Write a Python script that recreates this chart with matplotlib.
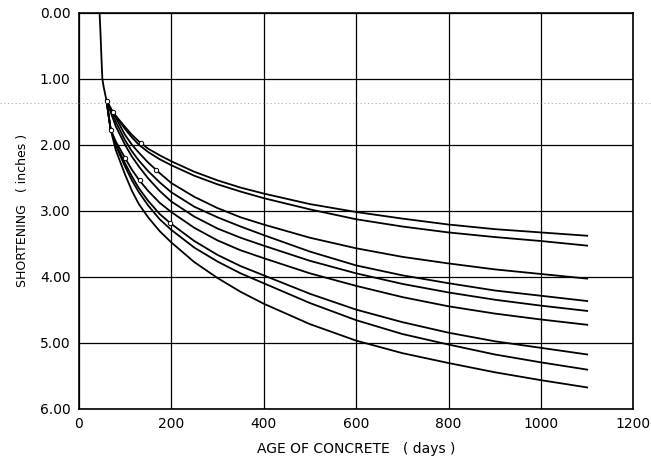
import matplotlib.pyplot as plt
import matplotlib.lines as mlines

# common stem of all curves (days, inches)
stem_x = [45, 47, 49, 51, 54, 60]
stem_y = [0.0, 0.31, 0.67, 1.00, 1.13, 1.33]

days = [100, 115, 130, 150, 175, 200, 250, 300, 350, 400, 500, 600, 700, 800, 900, 1000, 1100]

# starting points of each curve (before day 100)
start_x_ab = [60, 74]
start_y_ab = [1.33, 1.51]
start_x_c = [74]
start_y_c = [1.51]
start_x_de = [60, 80]
start_y_d = [1.33, 1.65]
start_y_e = [1.33, 1.72]
start_x_fi = [60, 69, 80]
start_y_f = [1.33, 1.77, 1.95]
start_y_g = [1.33, 1.77, 1.99]
start_y_h = [1.33, 1.77, 2.01]
start_y_i = [1.33, 1.77, 2.08]

# shortening (inches), top curve to bottom curve
curve_a = [1.73, 1.85, 1.95, 2.06, 2.16, 2.25, 2.41, 2.54, 2.65, 2.74, 2.90, 3.02, 3.12, 3.21, 3.28, 3.33, 3.38]
curve_b = [1.76, 1.89, 2.00, 2.11, 2.22, 2.31, 2.47, 2.60, 2.71, 2.81, 2.98, 3.13, 3.24, 3.33, 3.40, 3.46, 3.53]
curve_c = [1.85, 2.00, 2.12, 2.27, 2.43, 2.58, 2.79, 2.96, 3.10, 3.21, 3.41, 3.57, 3.70, 3.80, 3.89, 3.96, 4.03]
curve_d = [1.93, 2.10, 2.24, 2.40, 2.57, 2.72, 2.94, 3.10, 3.24, 3.37, 3.62, 3.83, 3.98, 4.10, 4.21, 4.29, 4.37]
curve_e = [2.00, 2.18, 2.33, 2.51, 2.70, 2.86, 3.09, 3.27, 3.41, 3.53, 3.76, 3.95, 4.11, 4.24, 4.35, 4.44, 4.52]
curve_f = [2.20, 2.38, 2.53, 2.70, 2.88, 3.02, 3.26, 3.45, 3.60, 3.72, 3.95, 4.14, 4.31, 4.45, 4.56, 4.65, 4.73]
curve_g = [2.28, 2.48, 2.66, 2.85, 3.05, 3.20, 3.46, 3.67, 3.84, 3.98, 4.26, 4.50, 4.69, 4.85, 4.98, 5.08, 5.18]
curve_h = [2.33, 2.54, 2.72, 2.92, 3.13, 3.29, 3.56, 3.77, 3.95, 4.10, 4.40, 4.66, 4.87, 5.03, 5.18, 5.30, 5.41]
curve_i = [2.45, 2.70, 2.90, 3.10, 3.31, 3.48, 3.78, 4.02, 4.23, 4.41, 4.72, 4.97, 5.16, 5.31, 5.45, 5.57, 5.68]

# small open circles seen on the curves
mark_x = [60, 74, 69, 135, 100, 132, 168, 197]
mark_y = [1.33, 1.51, 1.77, 1.98, 2.20, 2.54, 2.39, 3.18]

x_ticks = [0, 200, 400, 600, 800, 1000, 1200]
y_ticks = [0, 1, 2, 3, 4, 5, 6]

fig = plt.figure(figsize=(6.51, 4.58), dpi=100)
ax = fig.add_axes([0.121, 0.108, 0.852, 0.864])

kw = dict(color='black', lw=1.3, solid_joinstyle='round')
ax.plot(stem_x, stem_y, **kw)
ax.plot(start_x_ab + days, start_y_ab + curve_a, **kw)
ax.plot(start_x_ab + days, start_y_ab + curve_b, **kw)
ax.plot(start_x_c + days, start_y_c + curve_c, **kw)
ax.plot(start_x_de + days, start_y_d + curve_d, **kw)
ax.plot(start_x_de + days, start_y_e + curve_e, **kw)
ax.plot(start_x_fi + days, start_y_f + curve_f, **kw)
ax.plot(start_x_fi + days, start_y_g + curve_g, **kw)
ax.plot(start_x_fi + days, start_y_h + curve_h, **kw)
ax.plot(start_x_fi + days, start_y_i + curve_i, **kw)
ax.scatter(mark_x, mark_y, s=10, facecolors='white', edgecolors='black', linewidths=0.7, zorder=3)

ax.set_xlim(0, 1200)
ax.set_ylim(6, 0)
ax.set_xticks(x_ticks)
ax.set_yticks(y_ticks)
ax.set_yticklabels(['%.2f' % v for v in y_ticks])
ax.grid(True, color='black', lw=0.9)
ax.tick_params(length=0, labelsize=10, pad=6)
for s in ax.spines.values():
    s.set_linewidth(1.2)

ax.set_xlabel('AGE OF CONCRETE   ( days )', fontsize=10, labelpad=8)
ax.set_ylabel('SHORTENING   ( inches )', fontsize=9, labelpad=8)

# scanner streak across the page
fig.add_artist(mlines.Line2D([0, 1], [0.775, 0.775], transform=fig.transFigure,
                             color='gray', lw=0.6, ls=(0, (1.5, 3)), alpha=0.7))

plt.savefig('out.png', dpi=100)
